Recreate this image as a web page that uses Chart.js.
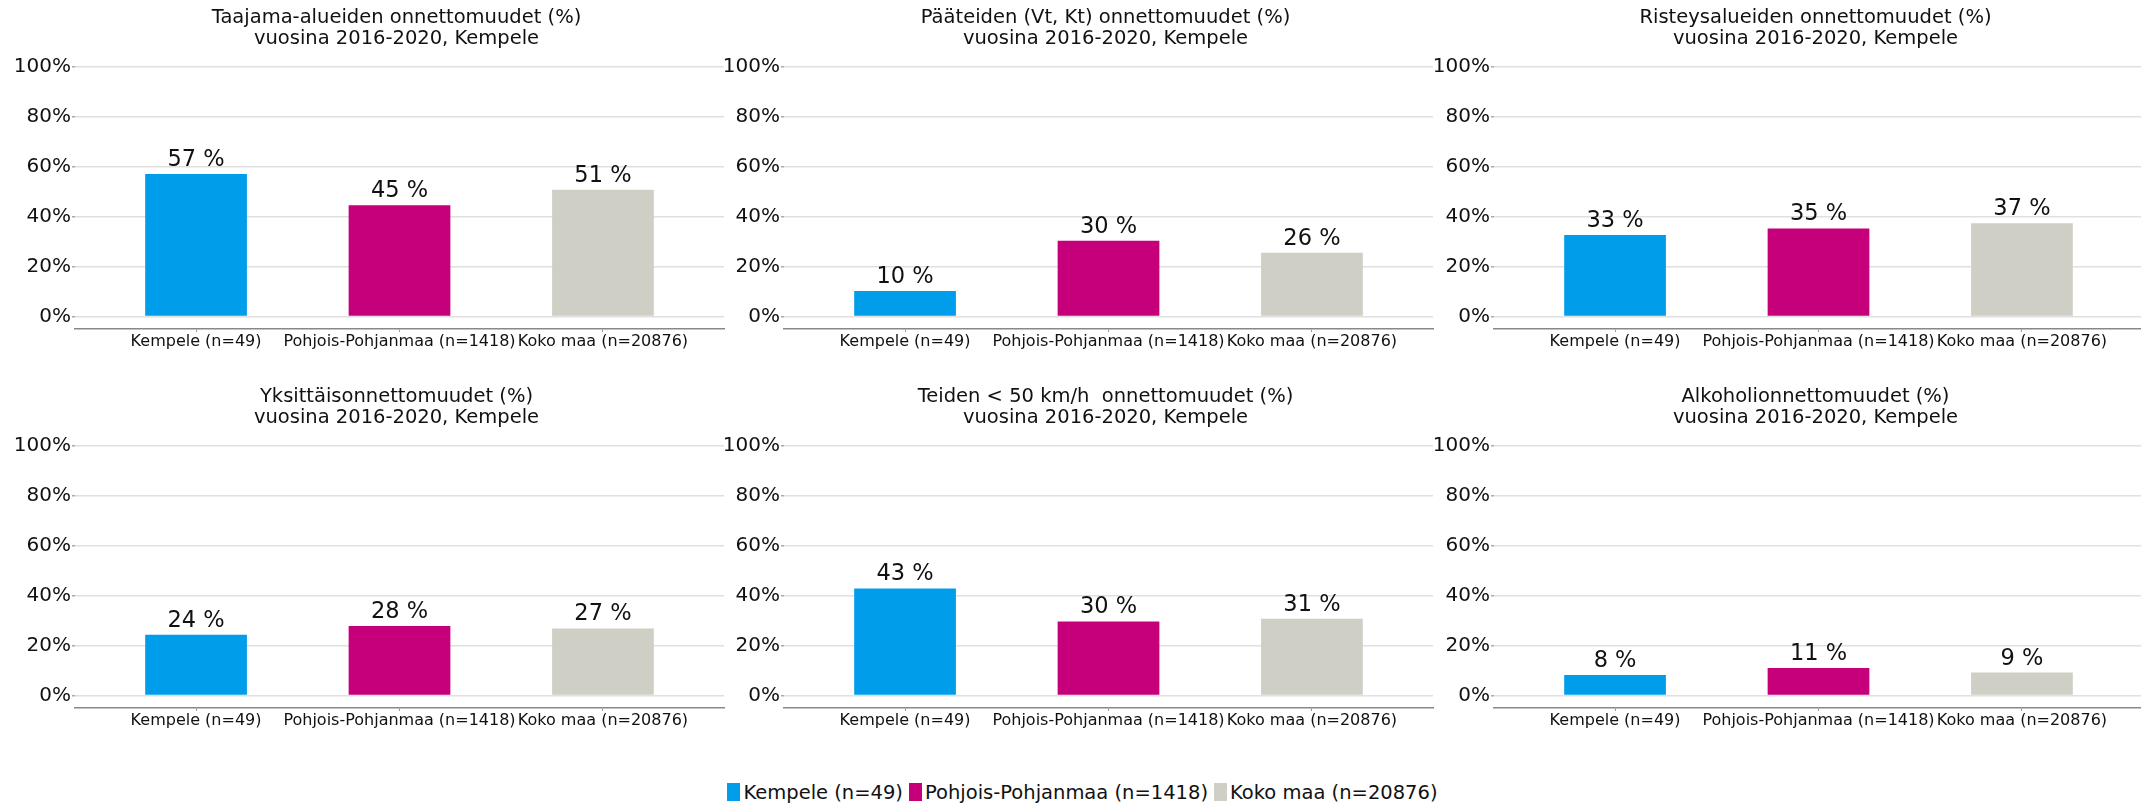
<!DOCTYPE html>
<html>
<head>
<meta charset="utf-8">
<script src="https://cdn.jsdelivr.net/npm/chart.js@4/dist/chart.umd.min.js"></script>
<style>
    body { margin: 0; width: 2141px; height: 804px; overflow: hidden; background: #fff; position: relative; }
    canvas { position: absolute; }
    #legend {
        position: absolute; left: 12px; width: 2141px; top: 780px; height: 24px;
        display: flex; justify-content: center; align-items: center;
        font-family: 'DejaVu Sans'; font-size: 19.5px; color: #111;
    }
    .item { display: flex; align-items: center; margin: 0 3px; }
    .box { width: 13px; height: 18px; margin-right: 3px; }
</style>
</head>
<body>
<div id="legend"></div>
<script>
// Data
const categories = ['Kempele (n=49)', 'Pohjois-Pohjanmaa (n=1418)', 'Koko maa (n=20876)'];
const barColors = ['#009DEB', '#C5007A', '#CFCFC6'];
const yTicks = [0, 20, 40, 60, 80, 100];

const titles = [
    ['Taajama-alueiden onnettomuudet (%)', 'vuosina 2016-2020, Kempele'],
    ['Pääteiden (Vt, Kt) onnettomuudet (%)', 'vuosina 2016-2020, Kempele'],
    ['Risteysalueiden onnettomuudet (%)', 'vuosina 2016-2020, Kempele'],
    ['Yksittäisonnettomuudet (%)', 'vuosina 2016-2020, Kempele'],
    ['Teiden < 50 km/h  onnettomuudet (%)', 'vuosina 2016-2020, Kempele'],
    ['Alkoholionnettomuudet (%)', 'vuosina 2016-2020, Kempele']
];

const taajamaValues = [57.1, 44.6, 50.8];
const paateidenValues = [10.2, 30.4, 25.6];
const risteysValues = [32.7, 35.3, 37.4];
const yksittaisValues = [24.4, 27.9, 26.9];
const alle50Values = [42.9, 29.7, 30.8];
const alkoholiValues = [8.2, 11.0, 9.2];

const panelValues = [taajamaValues, paateidenValues, risteysValues, yksittaisValues, alle50Values, alkoholiValues];

const FONT = 'DejaVu Sans';
const colLefts = [0, 709, 1419];
const rowTops = [0, 379];

// Title drawn over the plot area (centered on the axes, not the canvas)
const titlePlugin = {
    id: 'panelTitle',
    afterDraw(chart) {
        const lines = chart.options.plugins.panelTitle.lines;
        const ctx = chart.ctx;
        const cx = (chart.chartArea.left + chart.chartArea.right) / 2 - 3;
        ctx.save();
        ctx.font = '19.5px ' + FONT;
        ctx.fillStyle = '#111';
        ctx.textAlign = 'center';
        ctx.textBaseline = 'middle';
        lines.forEach((line, i) => ctx.fillText(line, cx, 18 + i * 21));
        ctx.restore();
    }
};

// Value labels above bars
const valueLabelPlugin = {
    id: 'valueLabels',
    afterDatasetsDraw(chart) {
        const ctx = chart.ctx;
        const meta = chart.getDatasetMeta(0);
        const data = chart.data.datasets[0].data;
        ctx.save();
        ctx.font = '22.5px ' + FONT;
        ctx.fillStyle = '#111';
        ctx.textAlign = 'center';
        ctx.textBaseline = 'alphabetic';
        meta.data.forEach((bar, i) => {
            ctx.fillText(Math.round(data[i].y) + ' %', bar.x, bar.y - 8);
        });
        ctx.restore();
    }
};

function makePanel(index) {
    const col = index % 3;
    const row = Math.floor(index / 3);
    const canvas = document.createElement('canvas');
    canvas.width = 800;
    canvas.height = 359;
    canvas.style.left = colLefts[col] + 'px';
    canvas.style.top = rowTops[row] + 'px';
    document.body.appendChild(canvas);

    const values = panelValues[index];

    new Chart(canvas, {
        type: 'bar',
        data: {
            datasets: [{
                data: values.map((v, i) => ({ x: i, y: v })),
                backgroundColor: barColors,
                borderWidth: 0,
                barPercentage: 0.5,
                categoryPercentage: 1
            }]
        },
        options: {
            responsive: false,
            animation: false,
            devicePixelRatio: 1,
            layout: { padding: { top: 67, right: 76, left: 0, bottom: 0 } },
            plugins: {
                legend: { display: false },
                tooltip: { enabled: false },
                panelTitle: { lines: titles[index] }
            },
            scales: {
                x: {
                    type: 'linear',
                    min: -0.595,
                    max: 2.595,
                    offset: false,
                    afterBuildTicks: (scale) => { scale.ticks = categories.map((c, i) => ({ value: i })); },
                    afterFit: (scale) => { scale.height = 30; },
                    ticks: {
                        autoSkip: false,
                        maxRotation: 0,
                        padding: 0,
                        color: '#111',
                        font: { family: FONT, size: 16 },
                        callback: (v) => categories[v]
                    },
                    grid: { offset: false, drawOnChartArea: false, drawTicks: true, tickLength: 3, tickColor: '#999' },
                    border: { display: true, color: '#888', width: 1.5 }
                },
                y: {
                    min: -5,
                    max: 100,
                    afterBuildTicks: (scale) => { scale.ticks = yTicks.map(v => ({ value: v })); },
                    afterFit: (scale) => { scale.width = 75; },
                    ticks: {
                        padding: 1,
                        color: '#111',
                        font: { family: FONT, size: 20 },
                        callback: (v) => v + '%'
                    },
                    grid: { color: '#e0e0e0', lineWidth: 1.5, tickLength: 3, tickColor: '#aaa' },
                    border: { display: false }
                }
            }
        },
        plugins: [titlePlugin, valueLabelPlugin]
    });
}

for (let i = 0; i < panelValues.length; i++) {
    makePanel(i);
}

// Legend
const legend = document.getElementById('legend');
categories.forEach((name, i) => {
    const item = document.createElement('div');
    item.className = 'item';
    const box = document.createElement('div');
    box.className = 'box';
    box.style.background = barColors[i];
    const label = document.createElement('span');
    label.textContent = name;
    item.appendChild(box);
    item.appendChild(label);
    legend.appendChild(item);
});
</script>
</body>
</html>
